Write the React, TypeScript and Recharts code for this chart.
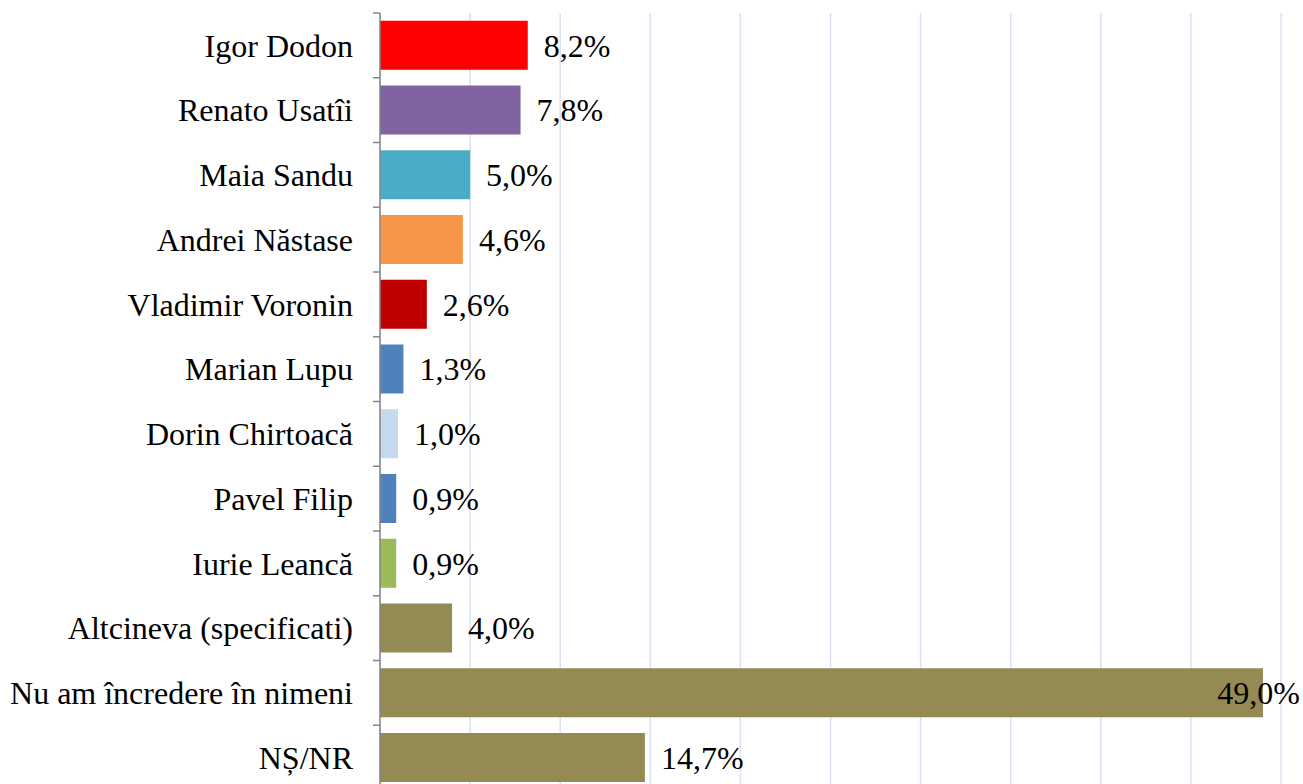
import { BarChart, Bar, XAxis, YAxis, CartesianGrid, Cell, LabelList } from 'recharts'

const candidates = [
  'Igor Dodon',
  'Renato Usatîi',
  'Maia Sandu',
  'Andrei Năstase',
  'Vladimir Voronin',
  'Marian Lupu',
  'Dorin Chirtoacă',
  'Pavel Filip',
  'Iurie Leancă',
  'Altcineva (specificati)',
  'Nu am încredere în nimeni',
  'NȘ/NR',
]
const shares = [8.2, 7.8, 5.0, 4.6, 2.6, 1.3, 1.0, 0.9, 0.9, 4.0, 49.0, 14.7]
const gridTicks = [0, 5, 10, 15, 20, 25, 30, 35, 40, 45, 50]

const COLORS = [
  '#FF0000',
  '#8064A2',
  '#4BACC6',
  '#F79646',
  '#C00000',
  '#4F81BD',
  '#C6D9F1',
  '#4F81BD',
  '#9BBB59',
  '#948A54',
  '#948A54',
  '#948A54',
]

const data = candidates.map((name, i) => ({ name, value: shares[i] }))

const W = 1303
const H = 792
const MARGIN = { top: 13, right: 22, bottom: 2, left: 0 }
const BAND = (H - MARGIN.top - MARGIN.bottom) / candidates.length
const FONT = '"Liberation Serif", "Times New Roman", serif'
const FS = 32

const fmt = (v: number) => v.toFixed(1).replace('.', ',') + '%'

const CategoryTick = (props: any) => {
  const { x, y, payload } = props
  return (
    <g>
      <line x1={x + 20} x2={x + 27} y1={y - BAND / 2} y2={y - BAND / 2} stroke="#868686" strokeWidth={1.5} />
      <text x={x} y={y} dy="0.355em" textAnchor="end" fill="#000" fontFamily={FONT} fontSize={FS}>
        {payload.value}
      </text>
    </g>
  )
}

const ValueLabel = (props: any) => {
  const { x, y, width, height, value } = props
  const text = fmt(value)
  const tw = text.length * FS * 0.52
  let lx = x + width + 16
  let anchor: 'start' | 'end' = 'start'
  if (lx + tw > W) {
    lx = W - 3
    anchor = 'end'
  }
  return (
    <text x={lx} y={y + height / 2} dy="0.355em" textAnchor={anchor} fill="#000" fontFamily={FONT} fontSize={FS}>
      {text}
    </text>
  )
}

export default function App() {
  return (
    <div style={{ position: 'fixed', top: 0, left: 0, width: W, height: 784, overflow: 'hidden', background: '#fff' }}>
      <BarChart width={W} height={H} data={data} layout="vertical" margin={MARGIN} barCategoryGap="12%">
        <CartesianGrid horizontal={false} stroke="#D9E1F2" strokeWidth={1.5} />
        <XAxis type="number" domain={[0, 50]} ticks={gridTicks} hide />
        <YAxis
          type="category"
          dataKey="name"
          width={380}
          tickSize={7}
          tickMargin={20}
          tickLine={false}
          axisLine={{ stroke: '#868686', strokeWidth: 1.5 }}
          tick={<CategoryTick />}
          interval={0}
        />
        <Bar dataKey="value" isAnimationActive={false}>
          {data.map((d, i) => (
            <Cell key={d.name} fill={COLORS[i]} />
          ))}
          <LabelList dataKey="value" content={<ValueLabel />} />
        </Bar>
      </BarChart>
    </div>
  )
}
